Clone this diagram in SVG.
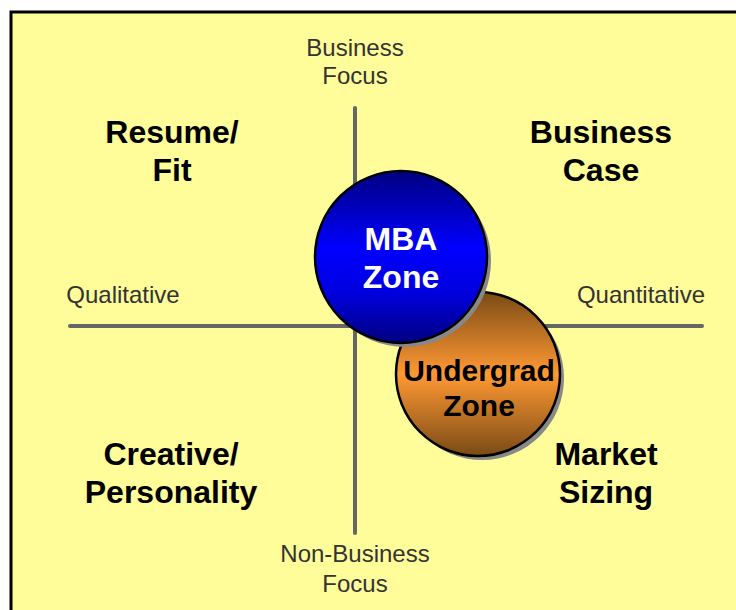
<svg xmlns="http://www.w3.org/2000/svg" width="736" height="610" viewBox="0 0 736 610">
<defs>
<linearGradient id="gBlue" x1="0" y1="0" x2="0" y2="1">
<stop offset="0" stop-color="#000080"/>
<stop offset="0.45" stop-color="#0000FF"/>
<stop offset="0.7" stop-color="#0000E0"/>
<stop offset="1" stop-color="#000080"/>
</linearGradient>
<linearGradient id="gOrange" x1="0" y1="0" x2="0" y2="1">
<stop offset="0" stop-color="#7A4A15"/>
<stop offset="0.5" stop-color="#FF9933"/>
<stop offset="1" stop-color="#7A4A15"/>
</linearGradient>
<style>
.axis{stroke:#666;stroke-width:4;stroke-linecap:round}
.ax{font-family:"Liberation Sans",Arial,sans-serif;font-size:24px;fill:#333;text-anchor:middle}
.q{font-family:"Liberation Sans",Arial,sans-serif;font-size:32px;font-weight:bold;fill:#000;text-anchor:middle}
.shadow{fill:#888}
.circ{stroke:#000;stroke-width:2.5}
</style>
</defs>
<rect x="0" y="0" width="736" height="610" fill="#fff"/>
<rect x="11" y="12" width="740" height="610" fill="#FFFD99" stroke="#000" stroke-width="3"/>
<g id="connectors">
<line class="axis" x1="355" y1="108" x2="355" y2="533"/>
<line class="axis" x1="70" y1="326" x2="702" y2="326"/>
</g>
<g id="axis-labels">
<text class="ax" x="355" y="56">Business</text>
<text class="ax" x="355" y="84">Focus</text>
<text class="ax" x="123" y="303">Qualitative</text>
<text class="ax" x="641" y="303">Quantitative</text>
<text class="ax" x="355" y="562">Non-Business</text>
<text class="ax" x="355" y="592">Focus</text>
</g>
<g id="resume-fit">
<text class="q" x="172" y="143">Resume/</text>
<text class="q" x="172" y="181">Fit</text>
</g>
<g id="business-case">
<text class="q" x="601" y="143">Business</text>
<text class="q" x="601" y="181">Case</text>
</g>
<g id="creative-personality">
<text class="q" x="171" y="465">Creative/</text>
<text class="q" x="171" y="503">Personality</text>
</g>
<g id="market-sizing">
<text class="q" x="606" y="465">Market</text>
<text class="q" x="606" y="503">Sizing</text>
</g>
<g id="undergrad-zone">
<circle class="shadow" cx="482" cy="378" r="82"/>
<circle class="circ" cx="478" cy="374" r="82" fill="url(#gOrange)"/>
<text class="q" x="479" y="381" font-size="30" style="font-size:30px">Undergrad</text>
<text class="q" x="479" y="416" style="font-size:30px">Zone</text>
</g>
<g id="mba-zone">
<circle class="shadow" cx="405" cy="261" r="86"/>
<circle class="circ" cx="401" cy="257" r="86" fill="url(#gBlue)"/>
<text class="q" x="401" y="250" style="fill:#fff">MBA</text>
<text class="q" x="401" y="288" style="fill:#fff">Zone</text>
</g>
</svg>
